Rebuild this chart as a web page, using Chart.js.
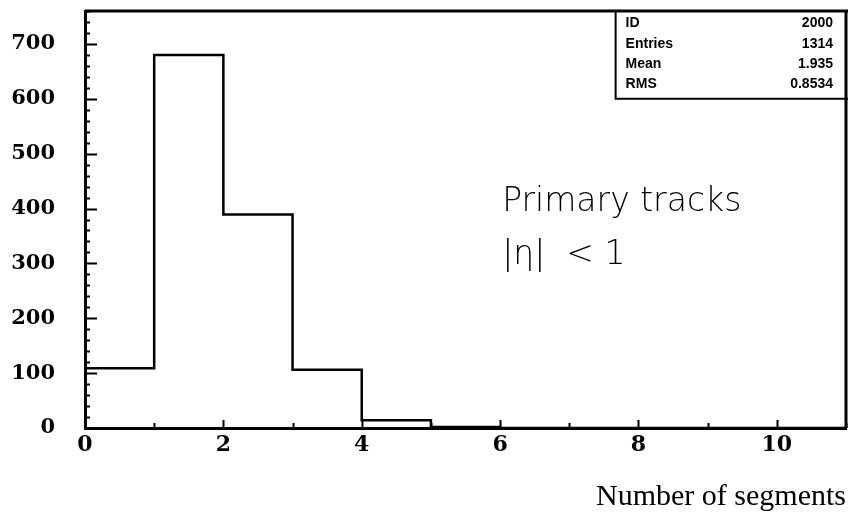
<!DOCTYPE html>
<html>
<head>
<meta charset="utf-8">
<script src="https://cdn.jsdelivr.net/npm/chart.js@4/dist/chart.umd.min.js"></script>
<style>
html,body{margin:0;padding:0;background:#fff;}
#wrap{width:848px;height:515px;position:relative;}
</style>
</head>
<body>
<div id="wrap"><canvas id="c" width="848" height="515"></canvas></div>
<script>
// ---- data ----
const binEdges = [0, 1, 2, 3, 4, 5, 6, 7, 8, 9, 10, 11];
const counts   = [109, 680, 389, 106, 14, 2, 0, 0, 0, 0, 0];
const xTickValues = [0, 2, 4, 6, 8, 10];
const yTickValues = [0, 100, 200, 300, 400, 500, 600, 700];
const statsLabels = ["ID", "Entries", "Mean", "RMS"];
const statsValues = ["2000", "1314", "1.935", "0.8534"];
const xTitle = "Number of segments";
const annotationLines = ["Primary tracks", "|\u03B7|  < 1"];

// step points built from the bin table
const stepPoints = counts.map((c, i) => ({x: binEdges[i], y: c}));
stepPoints.push({x: binEdges[binEdges.length - 1], y: counts[counts.length - 1]});

const frameAndTicks = {
  id: 'frameAndTicks',
  afterDraw(chart) {
    const ctx = chart.ctx, a = chart.chartArea;
    const xs = chart.scales.x, ys = chart.scales.y;
    ctx.save();
    ctx.strokeStyle = '#000';
    // top and right frame
    ctx.lineWidth = 3;
    ctx.beginPath();
    ctx.moveTo(a.left, a.top); ctx.lineTo(a.right + 2, a.top);
    ctx.moveTo(a.right, a.top); ctx.lineTo(a.right, a.bottom);
    ctx.stroke();
    // y ticks inward: minor every 20, major every 100
    ctx.lineWidth = 2;
    ctx.beginPath();
    for (let v = 0; v <= ys.max; v += 20) {
      const py = Math.round(ys.getPixelForValue(v)) + 0.5;
      const len = (v % 100 === 0) ? 12 : 5;
      ctx.moveTo(a.left, py); ctx.lineTo(a.left + len, py);
    }
    // x ticks inward
    for (let v = xs.min; v <= xs.max; v += 1) {
      const px = Math.round(xs.getPixelForValue(v)) + 0.5;
      const len = (v % 2 === 0) ? 8 : 5;
      ctx.moveTo(px, a.bottom); ctx.lineTo(px, a.bottom - len);
    }
    ctx.stroke();

    // stats box
    const boxL = xs.getPixelForValue(7.67), boxB = ys.getPixelForValue(600);
    ctx.lineWidth = 2;
    ctx.beginPath();
    ctx.moveTo(boxL, a.top); ctx.lineTo(boxL, boxB);
    ctx.lineTo(chart.width, boxB);
    ctx.stroke();
    ctx.fillStyle = '#000';
    ctx.font = 'bold 14px "Liberation Sans", Arial, sans-serif';
    ctx.textBaseline = 'middle';
    const rowY = [23, 44, 64, 84];
    statsLabels.forEach((lab, i) => {
      ctx.textAlign = 'left';
      ctx.fillText(lab, boxL + 10, rowY[i]);
      ctx.textAlign = 'right';
      ctx.fillText(statsValues[i], chart.width - 15, rowY[i]);
    });

    // annotation text
    ctx.font = '200 33px "DejaVu Sans", sans-serif';
    ctx.textAlign = 'left';
    ctx.textBaseline = 'alphabetic';
    const tx = xs.getPixelForValue(6.03);
    ctx.fillText(annotationLines[0], tx, ys.getPixelForValue(396));
    ctx.fillText(annotationLines[1], tx, ys.getPixelForValue(298));
    ctx.restore();
  }
};

new Chart(document.getElementById('c'), {
  type: 'line',
  data: {
    datasets: [{
      data: stepPoints,
      stepped: 'before',
      borderColor: '#000',
      borderWidth: 2.5,
      pointRadius: 0,
      fill: false
    }]
  },
  options: {
    responsive: false,
    animation: false,
    devicePixelRatio: 1,
    layout: {padding: {top: 11, right: 2, left: 0, bottom: 0}},
    plugins: {legend: {display: false}, tooltip: {enabled: false}},
    scales: {
      x: {
        type: 'linear',
        min: 0, max: 11,
        grid: {display: false, drawTicks: false},
        border: {display: true, color: '#000', width: 3},
        afterBuildTicks(scale) { scale.ticks = xTickValues.map(v => ({value: v})); },
        ticks: {
          color: '#000', padding: 4, autoSkip: false, maxRotation: 0,
          font: {family: '"DejaVu Serif", serif', size: 22, weight: 'bold'}
        },
        title: {
          display: true, text: xTitle, align: 'end', color: '#000',
          font: {family: '"Liberation Serif", "Times New Roman", serif', size: 30},
          padding: {top: 12, bottom: 0}
        },
        afterFit(scale) { scale.height = 87; }
      },
      y: {
        type: 'linear',
        min: 0, max: 760,
        grid: {display: false, drawTicks: false},
        border: {display: true, color: '#000', width: 3},
        afterBuildTicks(scale) { scale.ticks = yTickValues.map(v => ({value: v})); },
        ticks: {
          color: '#000', padding: 30, autoSkip: false,
          font: {family: '"DejaVu Serif", serif', size: 21, weight: 'bold'}
        },
        afterFit(scale) { scale.width = 85; scale.paddingTop = 0; scale.paddingBottom = 0; }
      }
    }
  },
  plugins: [frameAndTicks]
});
</script>
</body>
</html>
